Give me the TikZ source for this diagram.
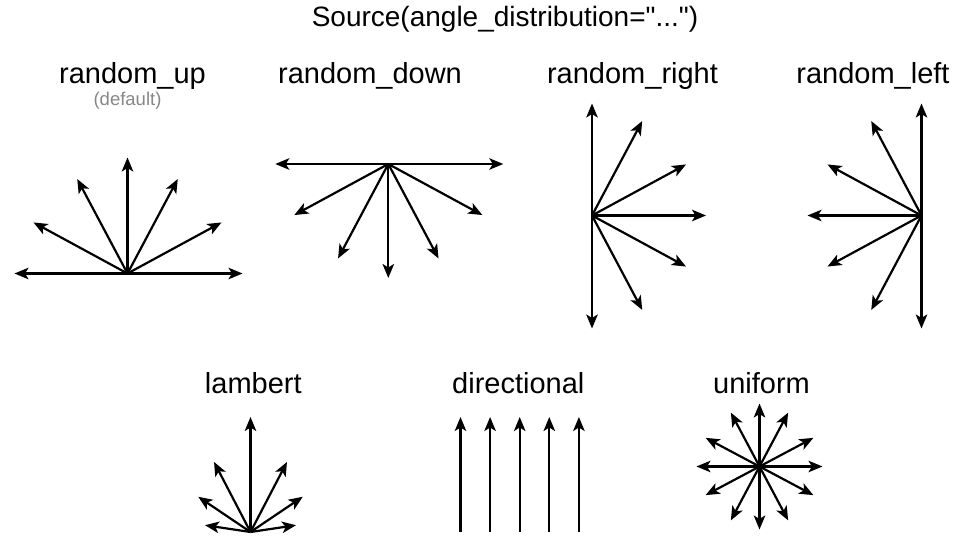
\documentclass[tikz,border=0pt]{standalone}
\usepackage{fontspec}
\setmainfont{Liberation Sans}[Ligatures=TeXOff]
\usetikzlibrary{arrows.meta,calc}
\begin{document}
\begin{tikzpicture}[x=1pt,y=-1pt,
  ray/.style={line width=2.2pt,-{Stealth[length=14pt,width=11.5pt,inset=3.5pt]}},
  lbl/.style={anchor=base,inner sep=0pt,font=\fontsize{29}{34}\selectfont},
  ttl/.style={anchor=base,inner sep=0pt,font=\fontsize{28}{33}\selectfont},
  note/.style={anchor=base,inner sep=0pt,text=black!47,font=\fontsize{18.5}{22}\selectfont}]
\useasboundingbox (0,0) rectangle (959,548);
\node[ttl] (title) at (505,27) {Source(angle\_distribution="...")};
\node[lbl] (lup) at (132.5,84) {random\_up};
\node[note] (ldef) at (127.5,106) {(default)};
\node[lbl] (ldown) at (370,84) {random\_down};
\node[lbl] (lright) at (632.5,84) {random\_right};
\node[lbl] (lleft) at (873,84) {random\_left};
\node[lbl] (llam) at (253.3,393) {lambert};
\node[lbl] (ldir) at (518.3,393) {directional};
\node[lbl] (luni) at (761.5,393) {uniform};
% random_up
\coordinate (U) at (127.5,273.5);
\foreach \a/\l [count=\i] in {0/115,-28.5/107,-62/107,-90/116,-118/107,-151.5/107,180/113}{
  \coordinate (U\i) at ($(U)+(\a:\l)$);
  \draw[ray] (U) -- (U\i);}
% random_down
\coordinate (D) at (388.3,164);
\foreach \a/\l [count=\i] in {0/115,28.5/107,62/107,90/114,118/107,151.5/107,180/113}{
  \coordinate (D\i) at ($(D)+(\a:\l)$);
  \draw[ray] (D) -- (D\i);}
% random_right
\coordinate (R) at (592,215.5);
\foreach \a/\l [count=\i] in {-90/112,-62/107,-28.5/107,0/114,28.5/107,62/107,90/113}{
  \coordinate (R\i) at ($(R)+(\a:\l)$);
  \draw[ray] (R) -- (R\i);}
% random_left
\coordinate (L) at (921.5,215.5);
\foreach \a/\l [count=\i] in {-90/112,-118/107,-151.5/107,180/114,151.5/107,118/107,90/113}{
  \coordinate (L\i) at ($(L)+(\a:\l)$);
  \draw[ray] (L) -- (L\i);}
% lambert
\coordinate (M) at (250.5,532);
\foreach \a/\l [count=\i] in {-8.5/46,-34/63,-62.5/79,-90/115,-117.5/79,-146/63,-171.5/46}{
  \coordinate (M\i) at ($(M)+(\a:\l)$);
  \draw[ray] (M) -- (M\i);}
% directional
\foreach \i in {0,...,4}{
  \coordinate (B\i) at (460.5+29.6*\i,532);
  \coordinate (T\i) at (460.5+29.6*\i,417);
  \draw[ray] (B\i) -- (T\i);}
% uniform
\coordinate (N) at (759.5,466.5);
\foreach \a/\l [count=\i] in {0/63,28/61,62/61,90/63,118/61,152/61,180/63,208/61,242/61,270/63,298/61,332/61}{
  \coordinate (N\i) at ($(N)+(\a:\l)$);
  \draw[ray] (N) -- (N\i);}
\end{tikzpicture}
\end{document}
